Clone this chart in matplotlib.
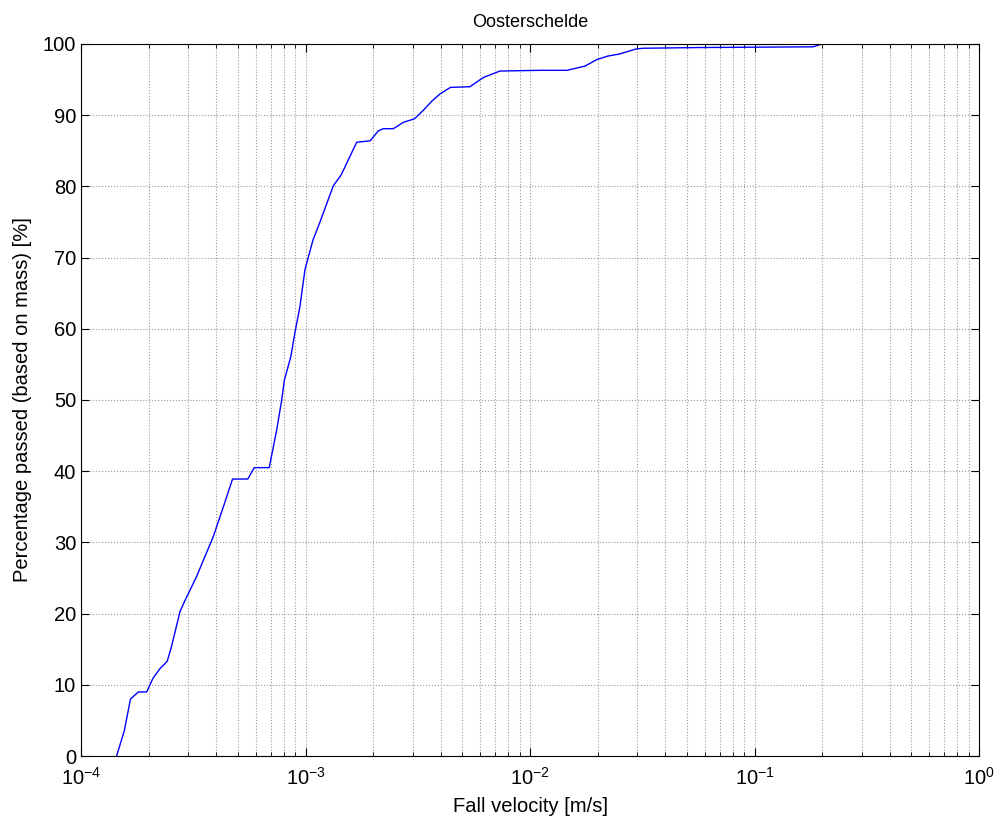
import matplotlib
matplotlib.use('Agg')
from matplotlib import pyplot as plt
from matplotlib.ticker import LogLocator, NullFormatter
import numpy as np

# fall velocity [m/s] and percentage passed [%]
velocity = [1.44e-4, 1.56e-4, 1.66e-4, 1.80e-4, 1.96e-4, 2.09e-4, 2.25e-4, 2.42e-4,
            2.53e-4, 2.76e-4, 2.90e-4, 3.27e-4, 3.88e-4, 4.38e-4, 4.73e-4, 5.53e-4,
            5.91e-4, 6.89e-4, 7.44e-4, 7.83e-4, 8.05e-4, 8.6e-4, 8.96e-4, 9.44e-4,
            9.94e-4, 1.08e-3, 1.16e-3, 1.33e-3, 1.44e-3, 1.69e-3, 1.94e-3, 2.11e-3,
            2.22e-3, 2.46e-3, 2.73e-3, 3.06e-3, 3.35e-3, 3.66e-3, 3.98e-3, 4.42e-3,
            5.4e-3, 6.2e-3, 7.35e-3, 1.11e-2, 1.46e-2, 1.76e-2, 1.98e-2, 2.22e-2,
            2.51e-2, 2.97e-2, 3.18e-2, 5.7e-2, 0.182, 0.20]
passed = [0.0, 3.6, 8.0, 9.0, 9.0, 10.9, 12.3, 13.3,
          15.4, 20.3, 21.8, 25.2, 30.8, 35.7, 38.9, 38.9,
          40.5, 40.5, 45.8, 50.0, 52.8, 56.1, 59.4, 63.1,
          68.3, 72.5, 75.0, 80.1, 81.6, 86.2, 86.4, 87.8,
          88.1, 88.1, 89.0, 89.5, 90.7, 92.0, 93.0, 93.9,
          94.0, 95.3, 96.2, 96.3, 96.3, 96.9, 97.8, 98.3,
          98.6, 99.3, 99.4, 99.5, 99.6, 100.0]

x_ticks = [1e-4, 1e-3, 1e-2, 1e-1, 1e0]
x_tick_labels = ['$10^{-4}$', '$10^{-3}$', '$10^{-2}$', '$10^{-1}$', '$10^{0}$']
y_ticks = list(range(0, 101, 10))


def main():
    plt.rcParams['font.family'] = ['Liberation Sans', 'DejaVu Sans']
    plt.rcParams['mathtext.fontset'] = 'custom'
    plt.rcParams['mathtext.rm'] = 'Liberation Sans'
    plt.rcParams['mathtext.it'] = 'Liberation Sans'

    fig = plt.figure(figsize=(10.03, 8.19), dpi=100)
    ax = fig.add_axes([0.0808, 0.0769, 0.8953, 0.8694])

    ax.plot(velocity, passed, color='#0000ff', linewidth=1.0)

    ax.set_xscale('log')
    ax.set_xlim(1e-4, 1)
    ax.set_ylim(0, 100)
    ax.set_xticks(x_ticks)
    ax.set_xticklabels(x_tick_labels)
    ax.xaxis.set_minor_locator(LogLocator(base=10, subs=np.arange(2, 10), numticks=20))
    ax.xaxis.set_minor_formatter(NullFormatter())
    ax.set_yticks(y_ticks)

    ax.grid(True, which='major', linestyle=':', color='#999999', linewidth=0.8)
    ax.grid(True, which='minor', axis='x', linestyle=':', color='#999999', linewidth=0.8)

    ax.tick_params(which='both', direction='in', top=True, right=True, labelsize=14.5)
    ax.tick_params(which='major', length=6)
    ax.tick_params(which='minor', length=3)
    ax.tick_params(axis='x', pad=8)
    for s in ax.spines.values():
        s.set_linewidth(0.8)

    ax.set_xlabel('Fall velocity [m/s]', fontsize=14.5, labelpad=6)
    ax.set_ylabel('Percentage passed (based on mass) [%]', fontsize=14.5, labelpad=8)
    ax.set_title('Oosterschelde', fontsize=13, pad=12)

    fig.savefig('out.png', dpi=100)


if __name__ == '__main__':
    main()
